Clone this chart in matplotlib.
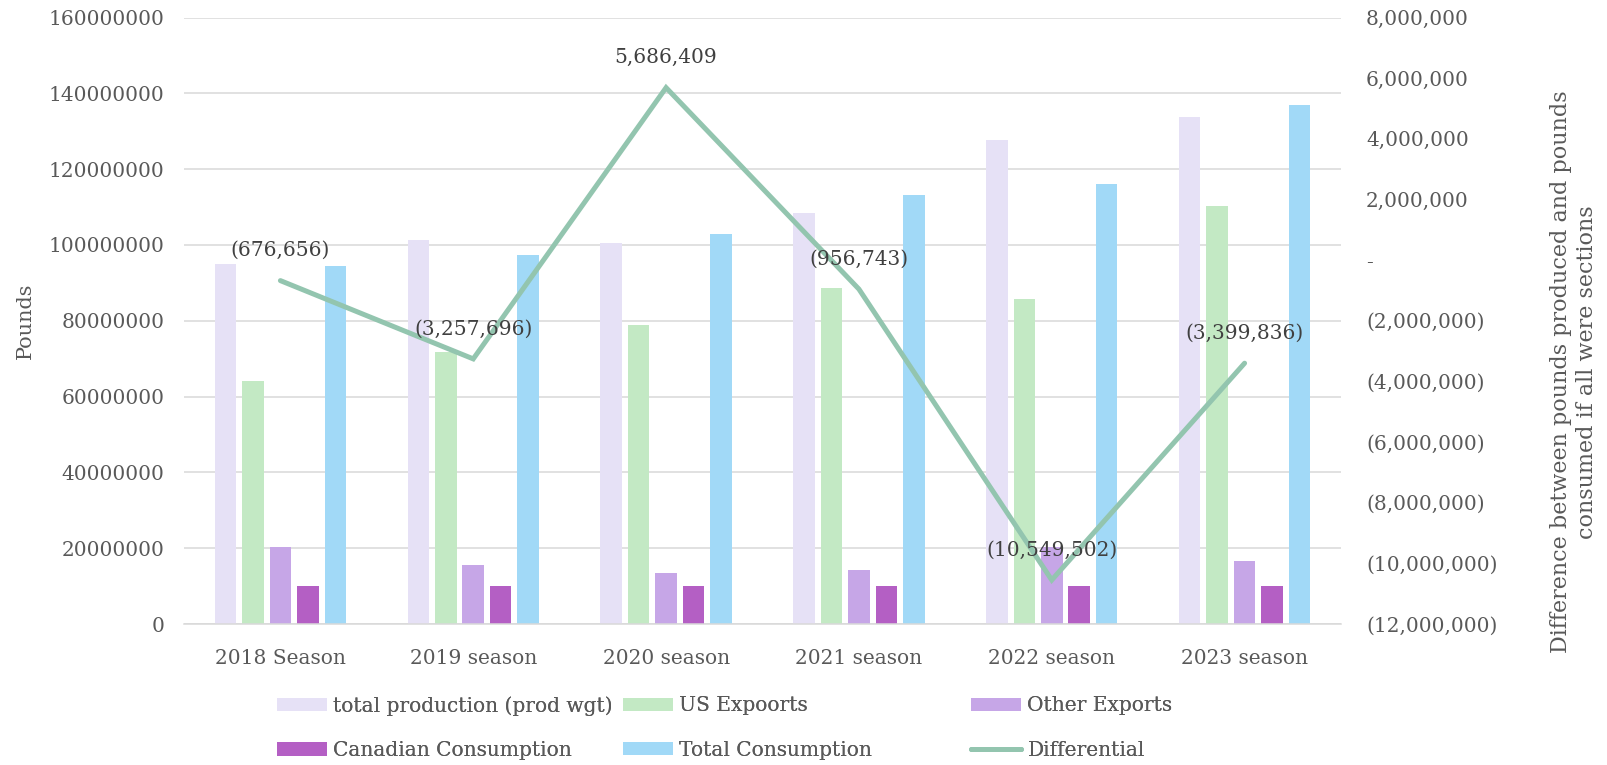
import matplotlib
matplotlib.use("Agg")
import matplotlib.pyplot as plt
import numpy as np
from matplotlib.ticker import FuncFormatter, MultipleLocator

categories = ["2018 Season", "2019 season", "2020 season", "2021 season", "2022 season", "2023 season"]
total_production = [95.1e6, 101.3e6, 100.4e6, 108.5e6, 127.8e6, 133.8e6]
us_exports = [64.0e6, 71.8e6, 79.0e6, 88.6e6, 85.8e6, 110.4e6]
other_exports = [20.3e6, 15.6e6, 13.5e6, 14.3e6, 20.3e6, 16.7e6]
canadian_consumption = [9.95e6, 9.95e6, 9.95e6, 9.95e6, 9.95e6, 9.95e6]
total_consumption = [94.4e6, 97.4e6, 102.8e6, 113.1e6, 116.2e6, 137.0e6]
differential = [-676656, -3257696, 5686409, -956743, -10549502, -3399836]

series_names = ["total production (prod wgt)", "US Expoorts", "Other Exports",
                "Canadian Consumption", "Total Consumption"]
series_vals = [total_production, us_exports, other_exports, canadian_consumption, total_consumption]
colors = ["#E6E1F6", "#C3E9C4", "#C6A6E7", "#B45FC4", "#A1D9F7"]
line_color = "#93C5AF"

FONT = "DejaVu Serif"
FS = 14.5
TICK_C = "#595959"

fig = plt.figure(figsize=(16.08, 7.65), dpi=100)
ax = fig.add_axes([184 / 1608, 1 - 624 / 765, (1341 - 184) / 1608, (624 - 17.5) / 765])

x = np.arange(len(categories))
bw = 0.1115
pitch = 0.1426
handles = []
for i, (name, vals, c) in enumerate(zip(series_names, series_vals, colors)):
    b = ax.bar(x + (i - 2) * pitch, vals, width=bw, color=c, label=name, zorder=2)
    handles.append(b)

ax.set_xlim(-0.5, len(categories) - 0.5)
ax.set_ylim(0, 160e6)
ax.yaxis.set_major_locator(MultipleLocator(20e6))
ax.yaxis.set_major_formatter(FuncFormatter(lambda v, p: f"{v:.0f}"))
ax.grid(axis="y", color="#D9D9D9", linewidth=1.1, zorder=0)
ax.set_axisbelow(True)
for s in ["top", "left", "right"]:
    ax.spines[s].set_visible(False)
ax.spines["bottom"].set_color("#D9D9D9")
ax.spines["bottom"].set_linewidth(1.1)
ax.set_xticks(x)
ax.set_xticklabels(categories)
ax.tick_params(axis="both", length=0, labelsize=FS, labelcolor=TICK_C)
ax.tick_params(axis="y", pad=14)
ax.tick_params(axis="x", pad=18)
for lab in ax.get_xticklabels() + ax.get_yticklabels():
    lab.set_fontfamily(FONT)
ax.set_ylabel("Pounds", fontfamily=FONT, fontsize=15, color=TICK_C, labelpad=10)

ax2 = ax.twinx()
ax2.set_ylim(-12e6, 8e6)
ax2.yaxis.set_major_locator(MultipleLocator(2e6))

def rfmt(v, p):
    if abs(v) < 1:
        return "-"
    if v < 0:
        return f"({abs(v):,.0f})"
    return f"{v:,.0f}"

ax2.yaxis.set_major_formatter(FuncFormatter(rfmt))
ax2.tick_params(axis="y", length=0, labelsize=FS, labelcolor=TICK_C, pad=18)
for lab in ax2.get_yticklabels():
    lab.set_fontfamily(FONT)
for s in ["top", "left", "right", "bottom"]:
    ax2.spines[s].set_visible(False)

ln, = ax2.plot(x, differential, color=line_color, linewidth=3.6, solid_capstyle="round",
               solid_joinstyle="miter", zorder=3, label="Differential")
for xi, v in zip(x, differential):
    ax2.annotate(rfmt(v, None), (xi, v), xytext=(0, 21.5), textcoords="offset points",
                 ha="center", va="center", fontfamily=FONT, fontsize=FS, color="#404040")

fig.text(1574 / 1608, 1 - 372 / 765,
         "Difference between pounds produced and pounds\nconsumed if all were sections",
         rotation=90, ha="center", va="center", multialignment="center",
         fontfamily=FONT, fontsize=16, color=TICK_C, linespacing=1.2)

leg_cols = [
    ([handles[0], handles[3]], [series_names[0], series_names[3]], 277),
    ([handles[1], handles[4]], [series_names[1], series_names[4]], 623),
    ([handles[2], ln], [series_names[2], "Differential"], 971),
]
for hs, ls, px in leg_cols:
    leg = fig.legend(hs, ls, loc="center left", bbox_to_anchor=(px / 1608, 1 - 728 / 765),
                     frameon=False, borderpad=0, borderaxespad=0,
                     handlelength=2.5, handleheight=0.65, handletextpad=0.3,
                     labelspacing=1.25, prop={"family": FONT, "size": FS})
    for t in leg.get_texts():
        t.set_color(TICK_C)
    fig.add_artist(leg)

fig.savefig("out.png", dpi=100)
